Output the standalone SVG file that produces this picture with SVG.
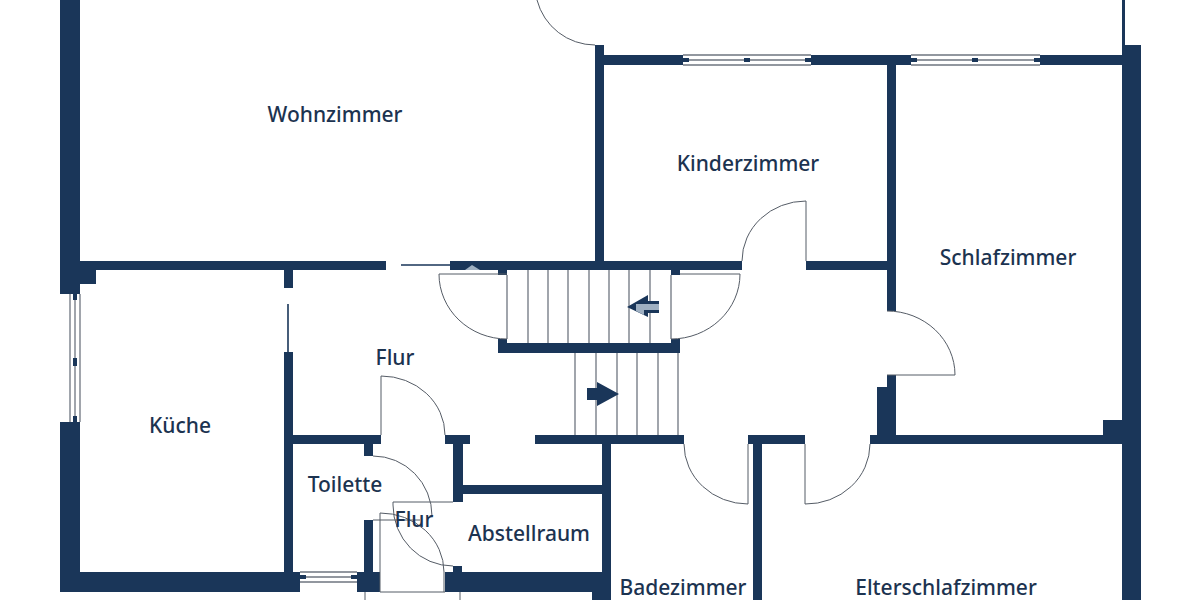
<svg xmlns="http://www.w3.org/2000/svg" width="1200" height="600" viewBox="0 0 1200 600">
<style>
.w{fill:#1a3659}
.t{fill:none;stroke:#6f7680;stroke-width:1.3}
.a{fill:none;stroke:#555c66;stroke-width:1}
.k{fill:none;stroke:#1a3659;stroke-width:1.6}
.m{fill:#1a3659}
.p{fill:#9fb0c2}
text{font-family:"Noto Sans","Open Sans",sans-serif;font-size:21px;font-weight:500;fill:#1c3350;text-anchor:middle}
</style>
<rect width="1200" height="600" fill="#fff"/>
<g id="walls" class="w">
<path d="M60 0H80V261H386V270H293V288H284V270H96V284H80V294H60Z"/>
<path d="M60 422H80V572H300V592H60Z"/>
<rect x="284" y="352" width="9" height="220"/>
<rect x="450" y="261" width="292" height="9"/>
<rect x="595" y="45" width="9" height="216"/>
<rect x="604" y="55" width="79" height="10"/>
<rect x="811" y="55" width="100" height="10"/>
<rect x="1040" y="55" width="82" height="10"/>
<rect x="1122" y="45" width="19" height="555"/>
<rect x="887" y="65" width="9" height="246"/>
<rect x="806" y="261" width="81" height="9"/>
<rect x="498" y="270" width="9" height="5"/>
<rect x="671" y="270" width="9" height="5"/>
<path d="M498 339H507V343H671V339H680V353H498Z"/>
<rect x="887" y="375" width="9" height="60"/>
<rect x="877" y="387" width="10" height="48"/>
<rect x="870" y="435" width="252" height="9"/>
<rect x="1103" y="420" width="19" height="15"/>
<rect x="748" y="435" width="57" height="9"/>
<rect x="753" y="444" width="9" height="156"/>
<rect x="535" y="435" width="149" height="9"/>
<rect x="602" y="444" width="9" height="156"/>
<rect x="592" y="592" width="10" height="8"/>
<rect x="463" y="485" width="139" height="9"/>
<rect x="445" y="435" width="25" height="9"/>
<rect x="453" y="444" width="10" height="58"/>
<rect x="445" y="572" width="157" height="20"/>
<rect x="453" y="566" width="9" height="6"/>
<rect x="293" y="435" width="88" height="9"/>
<rect x="364" y="444" width="9" height="12"/>
<rect x="364" y="520" width="9" height="52"/>
<rect x="357" y="572" width="23" height="20"/>
<rect x="1122" y="0" width="3" height="45"/>
</g>
<g id="windows">
<path class="t" d="M70 294V422M75 294V422M80 294V422"/>
<path class="m" d="M73 294h4v6h-4zM73 358h4v8h-4zM73 416h4v6h-4z"/>
<path class="t" d="M683 55H811M683 60H811M683 65H811M911 55H1040M911 60H1040M911 65H1040"/>
<path class="m" d="M683 58h6v4h-6zM744 58h6v4h-6zM805 58h6v4h-6zM911 58h6v4h-6zM972 58h6v4h-6zM1034 58h6v4h-6z"/>
<path class="t" d="M300 572H357M300 577H357M300 582H357"/>
<path class="m" d="M300 575h6v4h-6zM351 575h6v4h-6z"/>
</g>
<g id="stairs">
<path class="t" d="M507 275V339M528 270V343M548 270V343M568 270V343M589 270V343M609 270V343M629 270V343M650 270V343M671 275V339"/>
<path class="t" d="M575 353V435M596 353V435M617 353V435M637 353V435M658 353V435M678 353V435"/>
<path class="m" d="M627 307L648 295V301H659V313H648V317Z"/>
<path class="p" d="M636 304H659V310H644V315L636 311Z"/>
<path class="m" d="M587 388H597V382L619 394L597 406V400H587Z"/>
<path class="p" d="M465 270L472 265L480 270Z"/>
</g>
<g id="doors">
<path class="k" d="M401 265H450M288 304V352"/>
<path class="a" d="M537 0A60 60 0 0 0 595 45"/>
<path class="a" d="M507 274H439A68 65 0 0 0 507 339"/>
<path class="a" d="M680 274H740A69 65 0 0 1 671 339"/>
<path class="a" d="M742 261A64 60 0 0 1 806 201V261"/>
<path class="a" d="M887 311A68 64 0 0 1 955 375H887"/>
<path class="a" d="M870 444A64 60 0 0 1 805 504V444"/>
<path class="a" d="M684 444A64 60 0 0 0 748 504V444"/>
<path class="a" d="M381 435V376A64 59 0 0 1 445 435"/>
<path class="a" d="M373 456A59 60 0 0 1 432 516"/>
<path class="a" d="M373 520H420M380 592V513A64 59 0 0 1 444 572V592M380 592H445"/>
<path class="a" d="M453 502H393V505A60 61 0 0 0 453 566"/>
<path class="a" d="M365 592V600M460 592V600"/>
</g>
<g id="labels">
<text x="335" y="122">Wohnzimmer</text>
<text x="748" y="171">Kinderzimmer</text>
<text x="1008" y="265">Schlafzimmer</text>
<text x="395" y="365">Flur</text>
<text x="180" y="433">Küche</text>
<text x="345" y="492">Toilette</text>
<text x="414" y="527">Flur</text>
<text x="529" y="541">Abstellraum</text>
<text x="683" y="595">Badezimmer</text>
<text x="946" y="595">Elterschlafzimmer</text>
</g>
</svg>
